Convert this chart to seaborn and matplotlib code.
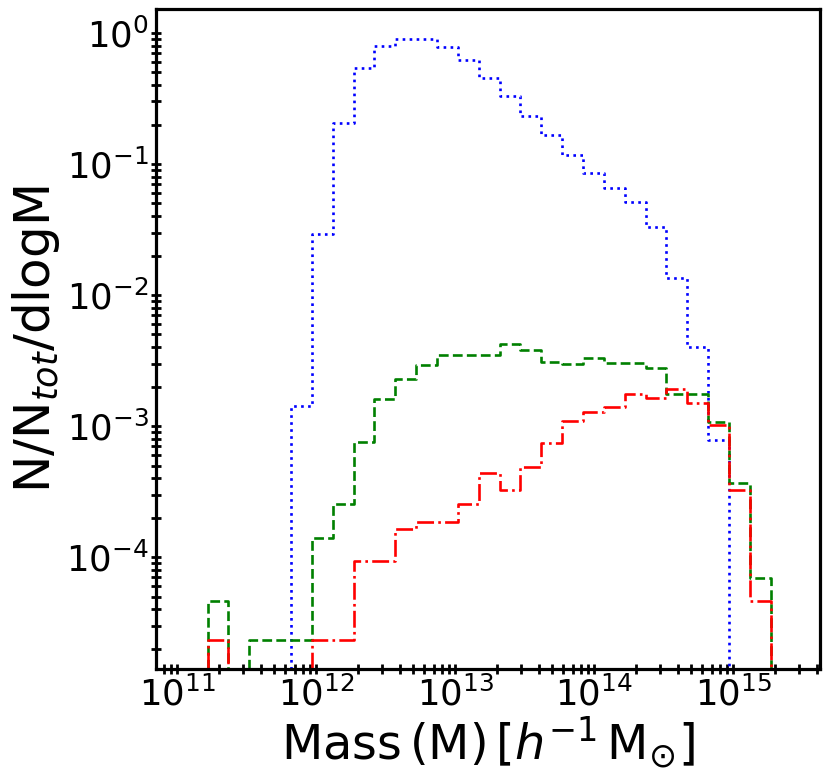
import numpy as np
import pandas as pd
import matplotlib
matplotlib.use("Agg")
import matplotlib.pyplot as plt
import seaborn as sns

# log10(M) lower bin edges, 0.15 dex wide (27 bins)
bin_lo = np.round(11.22 + 0.15 * np.arange(27), 2)

blue_vals = [0, 0, 0, 0, 1.42e-3, 0.029, 0.205, 0.537, 0.796, 0.905, 0.905,
             0.782, 0.619, 0.456, 0.332, 0.234, 0.167, 0.117, 0.085, 0.066,
             0.0515, 0.0329, 0.01355, 0.00398, 7.8e-4, 0, 0]
green_vals = [4.64e-5, 0, 2.32e-5, 2.32e-5, 2.32e-5, 1.39e-4, 2.54e-4, 7.6e-4,
              1.61e-3, 2.30e-3, 2.90e-3, 3.48e-3, 3.48e-3, 3.48e-3, 4.2e-3,
              3.8e-3, 3.1e-3, 3.0e-3, 3.29e-3, 3.01e-3, 3.01e-3, 2.79e-3,
              1.75e-3, 1.75e-3, 1.07e-3, 3.69e-4, 6.95e-5]
red_vals = [2.32e-5, 0, 0, 0, 0, 2.32e-5, 2.32e-5, 9.3e-5, 9.3e-5, 1.63e-4,
            1.84e-4, 1.84e-4, 2.55e-4, 4.4e-4, 3.25e-4, 4.89e-4, 7.38e-4,
            1.09e-3, 1.29e-3, 1.40e-3, 1.75e-3, 1.63e-3, 1.92e-3, 1.49e-3,
            1.02e-3, 3.25e-4, 4.64e-5]

series = [("blue", ":", blue_vals), ("green", "--", green_vals),
          ("red", "-.", red_vals)]

sns.set_style("white")
plt.rcParams['font.family'] = ['DejaVu Sans']
plt.rcParams['mathtext.fontset'] = 'dejavusans'
plt.rcParams['text.color'] = 'black'
plt.rcParams['axes.labelcolor'] = 'black'

fig = plt.figure(figsize=(8.3, 7.8), dpi=100)
ax = fig.add_axes([0.188, 0.1423, 0.8, 0.846])
ax.set_xscale('log')
ax.set_yscale('log')

# step outline: pad with an empty bin on each side so the outline closes
edges = np.concatenate([[bin_lo[0] - 0.15], bin_lo, [bin_lo[-1] + 0.15, bin_lo[-1] + 0.30]])
mass_edges = 10 ** edges
for color, ls, vals in series:
    y = np.concatenate([[0.0], np.asarray(vals, float), [0.0, 0.0]])
    df = pd.DataFrame({"M": mass_edges, "f": y})
    sns.lineplot(data=df, x="M", y="f", ax=ax, color=color, linestyle=ls,
                 linewidth=1.9, drawstyle="steps-post", estimator=None,
                 sort=False)

ax.set_xlim(10 ** 10.849, 10 ** 15.625)
ax.set_ylim(1.4e-5, 1.52)

for s in ax.spines.values():
    s.set_linewidth(2.3)
    s.set_color('black')

ax.tick_params(axis='both', which='both', direction='inout', length=7,
               width=2, labelsize=25.5, colors='black', top=False, right=False,
               bottom=True, left=True)
ax.tick_params(axis='x', which='major', pad=2)
ax.tick_params(axis='y', which='major', pad=2)
ax.xaxis.set_major_locator(matplotlib.ticker.LogLocator(base=10, numticks=12))
ax.xaxis.set_minor_locator(matplotlib.ticker.LogLocator(base=10, subs=np.arange(2, 10), numticks=12))
ax.yaxis.set_major_locator(matplotlib.ticker.LogLocator(base=10, numticks=12))
ax.yaxis.set_minor_locator(matplotlib.ticker.LogLocator(base=10, subs=np.arange(2, 10), numticks=12))

ax.set_xlabel(r'$\mathrm{Mass\,(M)\,[}h^{-1}\,\mathrm{M}_{\odot}]$', fontsize=34.5, labelpad=1)
ax.set_ylabel(r'N/N$_{tot}$/dlogM', fontsize=36, labelpad=3)
ax.grid(False)

fig.savefig("out.png", dpi=100)
